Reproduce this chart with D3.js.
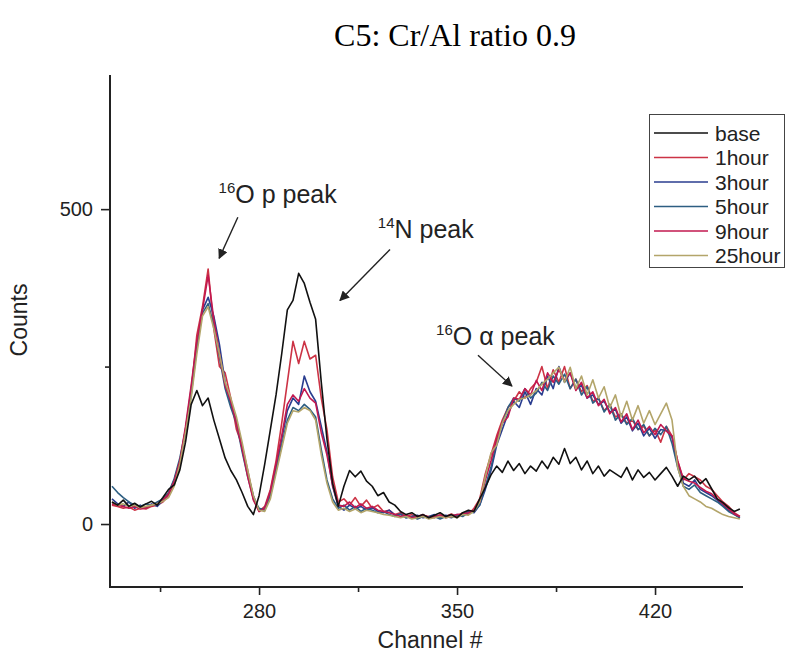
<!DOCTYPE html>
<html>
<head>
<meta charset="utf-8">
<script src="https://cdn.jsdelivr.net/npm/d3@7"></script>
<style>
  body { margin: 0; background: #fff; }
  svg { display: block; font-family: "Liberation Sans", Arial, sans-serif; }
</style>
</head>
<body>
<svg width="789" height="659"></svg>
<script>
// channel grid (every 2nd channel)
var channels = [
  228,230,232,234,236,238,240,242,244,246,
  248,250,252,254,256,258,260,262,264,266,
  268,270,272,274,276,278,280,282,284,286,
  288,290,292,294,296,298,300,302,304,306,
  308,310,312,314,316,318,320,322,324,326,
  328,330,332,334,336,338,340,342,344,346,
  348,350,352,354,356,358,360,362,364,366,
  368,370,372,374,376,378,380,382,384,386,
  388,390,392,394,396,398,400,402,404,406,
  408,410,412,414,416,418,420,422,424,426,
  428,430,432,434,436,438,440,442,444,446,
  448,450
];

var base = [
  35,30,38,28,33,27,32,36,30,42,
  55,62,86,130,190,212,188,200,165,135,
  105,85,70,50,28,15,45,95,150,205,
  270,340,355,398,382,352,325,225,135,65,
  28,60,85,75,84,68,60,45,50,35,
  30,20,15,18,12,15,10,14,18,12,
  15,10,18,22,20,40,58,78,92,82,
  100,85,96,80,92,84,100,88,106,95,
  120,96,106,86,100,80,92,76,86,80,
  74,90,70,86,74,82,70,80,90,76,
  60,76,70,76,64,72,56,40,34,26,
  20,24
];
var hour1 = [
  30,28,25,27,22,25,24,28,30,35,
  45,65,95,150,210,300,345,405,310,250,
  240,200,150,125,85,40,20,28,55,100,
  160,225,290,255,290,262,268,200,150,75,
  35,40,30,42,28,38,25,30,20,22,
  15,18,12,15,10,14,12,10,15,12,
  16,12,18,15,25,40,80,110,140,165,
  185,195,210,200,215,225,250,215,245,225,
  250,215,230,210,220,195,200,180,190,170,
  175,160,165,150,155,140,150,130,155,140,
  100,70,80,75,70,60,55,45,35,28,
  18,12
];
var hour3 = [
  40,32,28,35,25,30,26,32,28,38,
  48,70,100,145,205,280,340,360,330,285,
  225,190,165,120,80,45,22,25,50,90,
  135,180,200,190,235,210,195,155,115,60,
  28,22,30,25,28,22,26,20,18,22,
  14,16,10,12,14,10,12,15,10,14,
  12,15,14,20,18,30,55,85,125,150,
  175,195,185,210,190,215,205,235,215,250,
  225,240,215,220,200,205,190,195,178,182,
  160,170,148,160,140,152,136,150,148,138,
  95,65,60,70,55,50,45,38,30,22,
  16,10
];
var hour5 = [
  60,50,42,35,30,28,32,30,35,40,
  50,72,105,150,215,285,335,350,315,265,
  215,185,160,115,75,40,25,22,45,85,
  125,165,185,180,190,182,170,118,70,40,
  25,30,22,28,20,25,22,18,20,15,
  12,15,10,12,8,12,10,12,8,12,
  10,14,12,18,20,30,60,90,130,160,
  185,200,195,215,200,208,225,212,235,222,
  238,215,230,205,218,192,200,178,190,165,
  175,158,168,150,158,140,152,142,155,128,
  90,60,55,62,50,45,40,35,28,20,
  15,10
];
var hour9 = [
  32,30,28,25,28,24,26,30,32,38,
  48,68,100,155,220,290,340,395,325,270,
  220,195,160,120,75,38,20,25,52,95,
  140,190,205,195,215,200,192,145,110,62,
  30,28,35,26,32,25,28,22,20,18,
  15,12,14,10,12,15,10,12,14,10,
  12,15,16,18,22,35,70,100,135,160,
  170,200,198,215,205,228,212,240,225,245,
  228,240,212,225,200,210,188,198,175,185,
  162,175,150,165,145,155,142,158,148,140,
  100,72,68,65,58,52,48,40,32,24,
  16,12
];
var hour25 = [
  35,30,32,28,30,26,28,30,32,36,
  42,60,95,145,200,270,330,345,310,270,
  225,200,170,130,85,45,22,20,40,80,
  120,160,180,178,185,180,165,110,65,35,
  22,25,20,24,18,22,20,18,15,14,
  12,10,12,8,10,12,8,10,12,10,
  12,10,15,14,20,35,75,113,125,160,
  180,190,198,200,205,212,222,230,240,249,
  225,249,215,235,205,229,200,218,185,205,
  170,195,165,188,160,180,158,175,192,165,
  90,60,45,40,35,28,25,20,15,12,
  10,8
];

var seriesNames = ["base", "1hour", "3hour", "5hour", "9hour", "25hour"];
var seriesValues = [base, hour1, hour3, hour5, hour9, hour25];
var seriesColors = ["#111111", "#cc3345", "#2a3d8f", "#2d5e82", "#c2184f", "#b3a56a"];

var xMajorTicks = [280, 350, 420];
var xMinorTicks = [245, 315, 385];
var yMajorTicks = [0, 500];
var yMinorTicks = [250];

// annotations in data units: text, superscript, text x/y, arrow tail, arrow head
var notes = [
  {sup: "16", text: "O p peak", x: 265.7, y: 510, x1: 272.5, y1: 487, x2: 265.9, y2: 422},
  {sup: "14", text: "N peak", x: 322.0, y: 454, x1: 326.3, y1: 436, x2: 308.6, y2: 355},
  {sup: "16", text: "O \u03b1 peak", x: 342.6, y: 284, x1: 357.4, y1: 268, x2: 369.4, y2: 219}
];

var svg = d3.select("svg");

var x = d3.scaleLinear().domain([227.3, 451.1]).range([110, 743]);
var y = d3.scaleLinear().domain([-100, 713]).range([587, 75]);

// title
svg.append("text")
  .attr("x", 455).attr("y", 46)
  .attr("text-anchor", "middle")
  .style("font-family", "'Liberation Serif', 'Times New Roman', serif")
  .style("font-size", "32px")
  .text("C5: Cr/Al ratio 0.9");

// series lines (base drawn last)
var line = d3.line()
  .x(function(d, i) { return x(channels[i]); })
  .y(function(d) { return y(d); });

var order = [1, 2, 3, 4, 5, 0];
svg.append("g").selectAll("path")
  .data(order)
  .enter().append("path")
  .attr("fill", "none")
  .attr("stroke", function(k) { return seriesColors[k]; })
  .attr("stroke-width", 1.6)
  .attr("stroke-linejoin", "round")
  .attr("d", function(k) { return line(seriesValues[k]); });

// axes
svg.append("g").attr("transform", "translate(0,587)")
  .call(d3.axisBottom(x).tickValues(xMajorTicks).tickSize(8).tickPadding(9));
svg.append("g").attr("transform", "translate(0,587)")
  .call(d3.axisBottom(x).tickValues(xMinorTicks).tickSize(5).tickFormat(""));
svg.append("g").attr("transform", "translate(110,0)")
  .call(d3.axisLeft(y).tickValues(yMajorTicks).tickSize(9).tickPadding(8));
svg.append("g").attr("transform", "translate(110,0)")
  .call(d3.axisLeft(y).tickValues(yMinorTicks).tickSize(5).tickFormat(""));

svg.selectAll(".domain").attr("d", null);
svg.selectAll(".tick line").attr("stroke", "#222").attr("stroke-width", 1.6);
svg.selectAll(".tick text").style("font-size", "20px").attr("fill", "#222")
  .style("font-family", "'Liberation Sans', Arial, sans-serif");

// axis lines
svg.append("line").attr("x1", 110).attr("x2", 110).attr("y1", y(713)).attr("y2", 588)
  .attr("stroke", "#222").attr("stroke-width", 2);
svg.append("line").attr("x1", 109).attr("x2", x(451.1)).attr("y1", 587).attr("y2", 587)
  .attr("stroke", "#222").attr("stroke-width", 2);

// axis titles
svg.append("text")
  .attr("x", 430).attr("y", 648)
  .attr("text-anchor", "middle")
  .style("font-size", "23px").attr("fill", "#222")
  .text("Channel #");
svg.append("text")
  .attr("transform", "translate(27,320) rotate(-90)")
  .attr("text-anchor", "middle")
  .style("font-size", "23px").attr("fill", "#222")
  .text("Counts");

// annotations
svg.append("defs").append("marker")
  .attr("id", "arrow")
  .attr("viewBox", "0 0 10 10")
  .attr("refX", 9).attr("refY", 5)
  .attr("markerWidth", 10).attr("markerHeight", 10)
  .attr("markerUnits", "userSpaceOnUse")
  .attr("orient", "auto")
  .append("path").attr("d", "M0,0L10,5L0,10Z").attr("fill", "#222");

var ann = svg.append("g").selectAll("g").data(notes).enter().append("g");
ann.append("line")
  .attr("x1", function(d) { return x(d.x1); })
  .attr("y1", function(d) { return y(d.y1); })
  .attr("x2", function(d) { return x(d.x2); })
  .attr("y2", function(d) { return y(d.y2); })
  .attr("stroke", "#222").attr("stroke-width", 1.4)
  .attr("marker-end", "url(#arrow)");
var t = ann.append("text")
  .attr("x", function(d) { return x(d.x); })
  .attr("y", function(d) { return y(d.y); })
  .attr("fill", "#222")
  .style("font-size", "25px");
t.append("tspan").attr("dy", -10).style("font-size", "15px").text(function(d) { return d.sup; });
t.append("tspan").attr("dy", 10).text(function(d) { return d.text; });

// legend
var lg = svg.append("g");
lg.append("rect")
  .attr("x", 649.5).attr("y", 114.5).attr("width", 135).attr("height", 153)
  .attr("fill", "#fff").attr("stroke", "#444").attr("stroke-width", 1);
var items = lg.selectAll("g.item").data(seriesNames).enter().append("g")
  .attr("transform", function(d, i) { return "translate(0," + (133 + i * 24.5) + ")"; });
items.append("line")
  .attr("x1", 654).attr("x2", 708)
  .attr("stroke", function(d, i) { return seriesColors[i]; })
  .attr("stroke-width", 1.6);
items.append("text")
  .attr("x", 715).attr("y", 7.5)
  .style("font-size", "21px").attr("fill", "#222")
  .text(function(d) { return d; });
</script>
</body>
</html>
